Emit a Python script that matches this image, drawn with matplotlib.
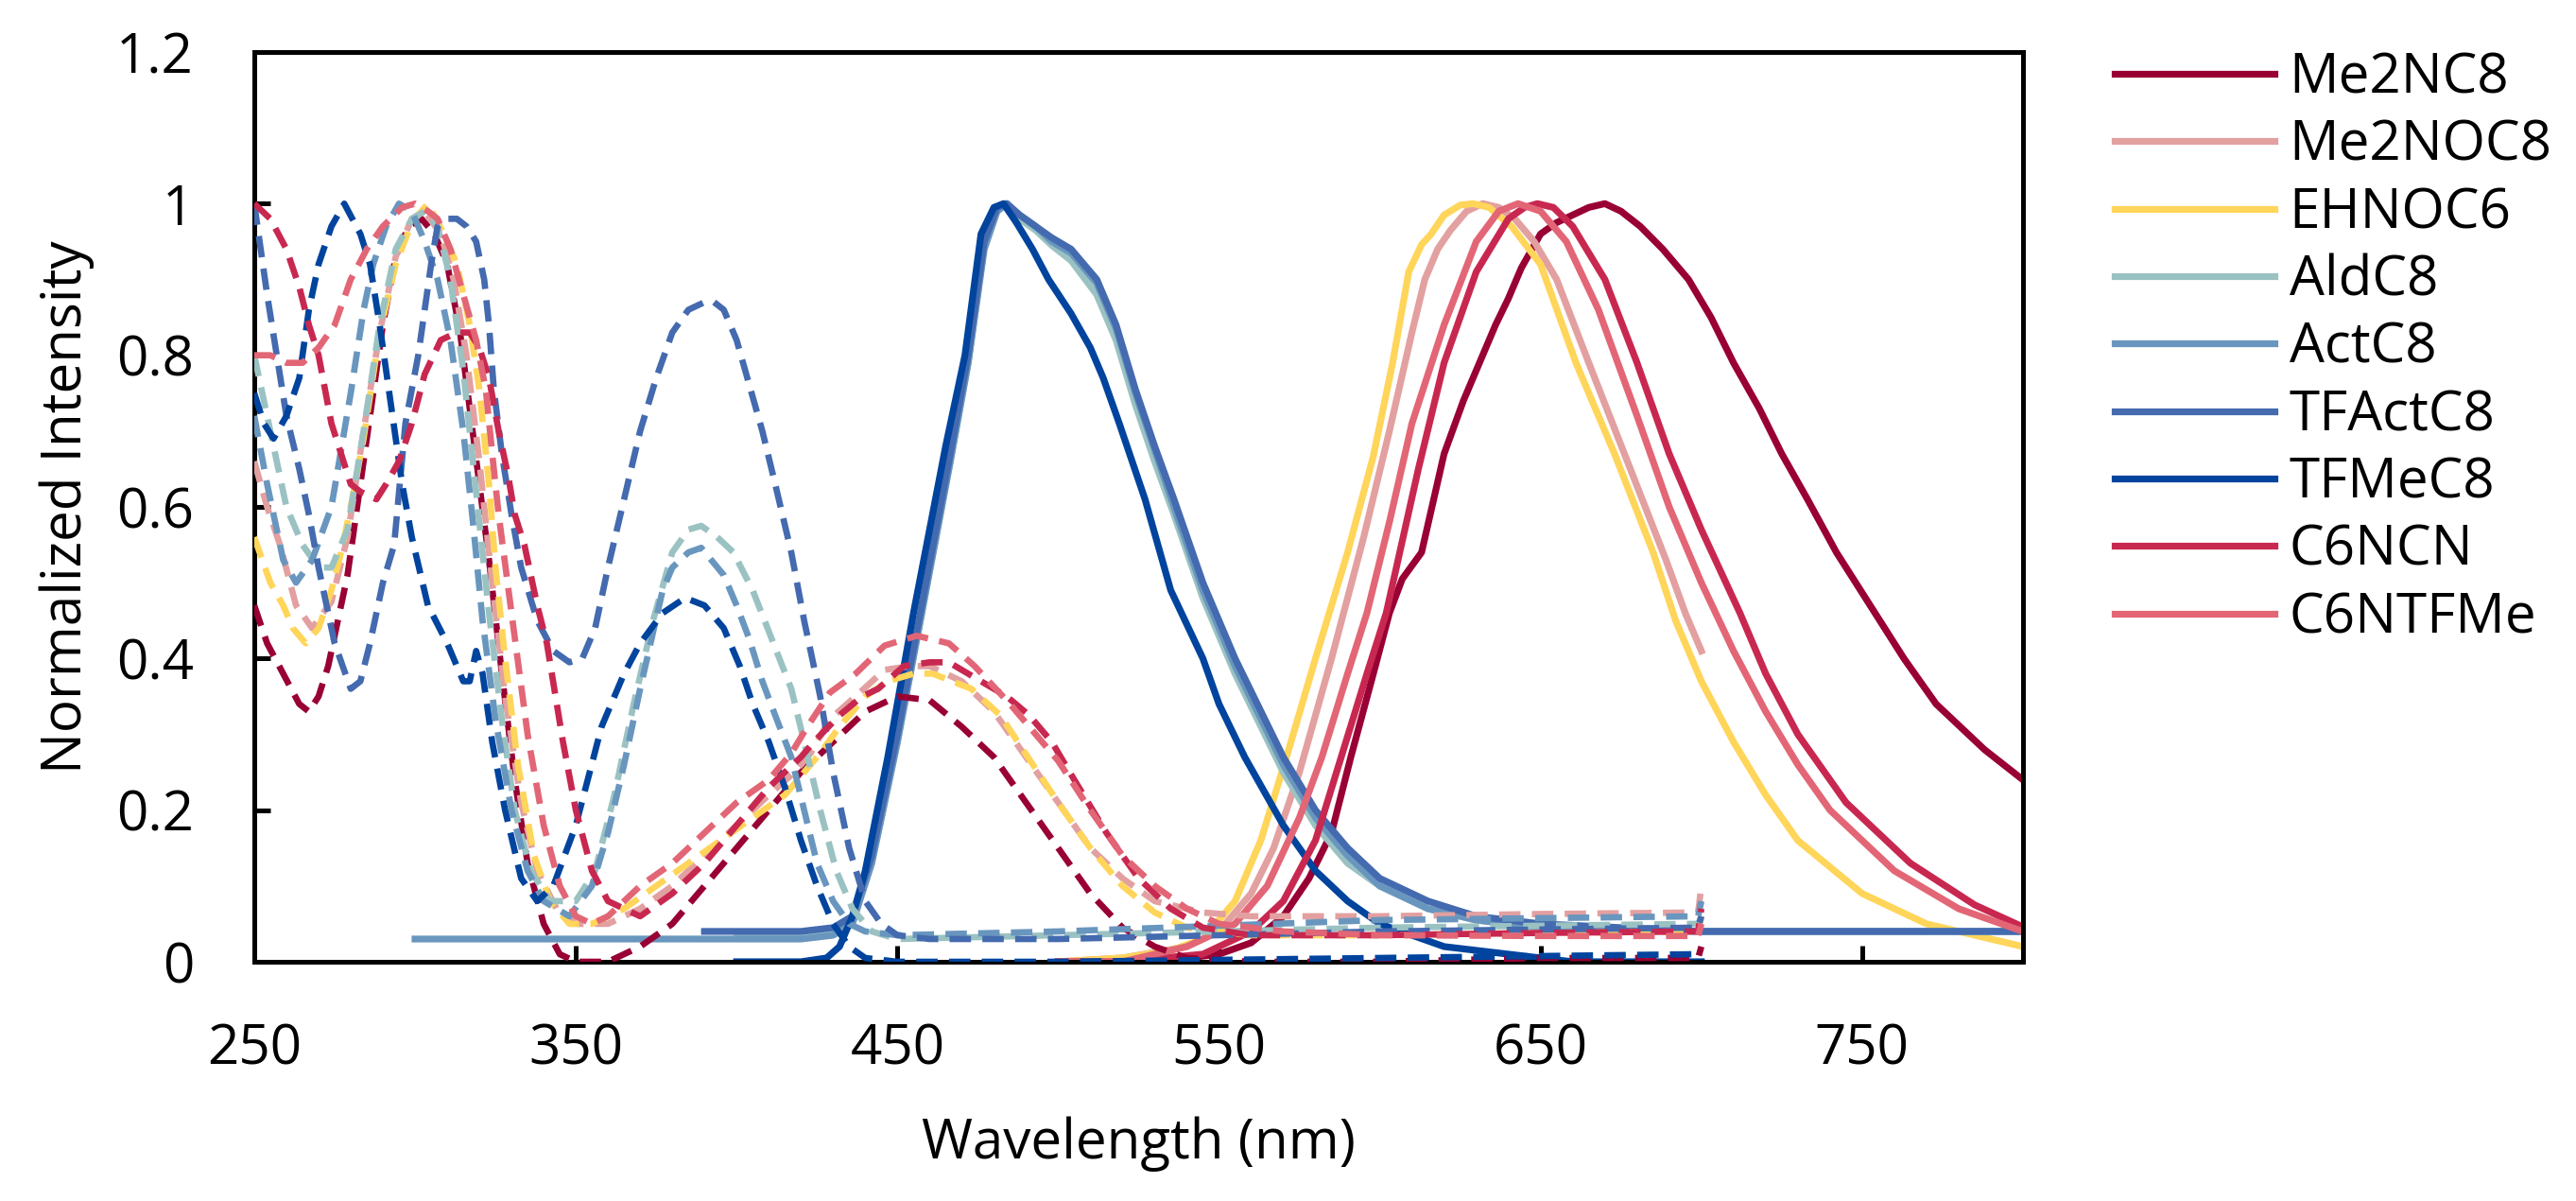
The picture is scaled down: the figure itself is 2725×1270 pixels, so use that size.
import numpy as np
import matplotlib
matplotlib.use("Agg")
import matplotlib.pyplot as plt
from matplotlib.ticker import FuncFormatter

plt.rcParams['font.family'] = ['Open Sans', 'DejaVu Sans']

# series names, same order as the legend
names = ['Me2NC8', 'Me2NOC8', 'EHNOC6', 'AldC8', 'ActC8', 'TFActC8', 'TFMeC8', 'C6NCN', 'C6NTFMe']
colors = ['#990033', '#E3A0A0', '#FFD55A', '#9BC2C2', '#6996BE', '#446AAF', '#00449E', '#C82850', '#E26676']

# ---- emission spectra (solid) ----
em_Me2NC8_wl = [500, 520, 540, 550, 560, 570, 578, 585, 591, 598, 603, 607, 613, 620, 626, 631, 636, 640, 644, 650,
                655, 660, 665, 670, 675, 681, 688, 696, 703, 710, 718, 725, 733, 742, 754, 763, 773, 788, 800]
em_Me2NC8 = [0.0, 0.0, 0.005, 0.01, 0.025, 0.06, 0.11, 0.17, 0.27, 0.38, 0.46, 0.505, 0.54, 0.67, 0.74, 0.79, 0.84,
             0.875, 0.915, 0.96, 0.975, 0.985, 0.995, 1.0, 0.99, 0.97, 0.94, 0.9, 0.85, 0.79, 0.73, 0.67, 0.61, 0.54,
             0.46, 0.40, 0.34, 0.28, 0.24]

em_Me2NOC8_wl = [500, 520, 540, 550, 560, 567, 575, 585, 595, 603, 610, 614, 618, 622, 627, 632, 637, 642, 648, 655,
                 665, 677, 689, 695, 700]
em_Me2NOC8 = [0.0, 0.005, 0.02, 0.04, 0.09, 0.15, 0.25, 0.4, 0.56, 0.7, 0.83, 0.9, 0.94, 0.965, 0.99, 1.0, 0.995,
              0.98, 0.95, 0.9, 0.79, 0.66, 0.53, 0.46, 0.41]

em_EHNOC6_wl = [500, 520, 535, 545, 555, 563, 571, 580, 590, 598, 604, 609, 613, 616, 620, 625, 629, 634, 641, 650,
                661, 673, 685, 692, 700, 710, 720, 730, 750, 770, 800]
em_EHNOC6 = [0.0, 0.005, 0.015, 0.03, 0.08, 0.16, 0.27, 0.4, 0.54, 0.667, 0.79, 0.91, 0.946, 0.96, 0.985, 0.998, 1.0,
             0.995, 0.97, 0.92, 0.79, 0.67, 0.54, 0.45, 0.37, 0.29, 0.22, 0.16, 0.09, 0.05, 0.02]

em_AldC8_wl = [400, 420, 430, 436, 442, 450, 458, 466, 472, 477, 481, 484, 488, 493, 498, 504, 512, 518, 524, 530,
               536, 545, 555, 570, 580, 590, 600, 615, 630, 650, 700, 800]
em_AldC8 = [0.035, 0.035, 0.04, 0.055, 0.13, 0.29, 0.47, 0.65, 0.79, 0.945, 0.99, 1.0, 0.98, 0.965, 0.945, 0.925,
            0.88, 0.82, 0.735, 0.66, 0.59, 0.48, 0.38, 0.25, 0.18, 0.13, 0.1, 0.07, 0.055, 0.045, 0.04, 0.04]

em_ActC8_wl = [300, 420, 430, 436, 442, 450, 458, 466, 472, 477, 481, 484, 488, 493, 498, 504, 512, 518, 524, 530,
               536, 545, 555, 570, 580, 590, 600, 615, 630, 650, 700, 800]
em_ActC8 = [0.03, 0.03, 0.035, 0.05, 0.13, 0.29, 0.47, 0.65, 0.79, 0.94, 0.99, 1.0, 0.985, 0.97, 0.95, 0.935, 0.895,
            0.835, 0.75, 0.675, 0.6, 0.49, 0.39, 0.26, 0.19, 0.14, 0.1, 0.07, 0.055, 0.045, 0.04, 0.04]

em_TFActC8_wl = [390, 420, 430, 436, 442, 450, 458, 466, 472, 477, 481, 484, 488, 493, 498, 504, 512, 518, 524, 530,
                 536, 545, 555, 570, 580, 590, 600, 615, 630, 650, 700, 800]
em_TFActC8 = [0.04, 0.04, 0.045, 0.06, 0.14, 0.3, 0.48, 0.66, 0.8, 0.95, 0.995, 1.0, 0.985, 0.97, 0.955, 0.94, 0.9,
              0.84, 0.755, 0.68, 0.61, 0.5, 0.4, 0.27, 0.2, 0.15, 0.11, 0.08, 0.06, 0.05, 0.04, 0.04]

em_TFMeC8_wl = [400, 420, 428, 432, 436, 440, 447, 455, 460, 465, 471, 476, 480, 483, 487, 492, 497, 504, 510, 514,
                519, 527, 535, 545, 550, 558, 570, 580, 590, 600, 620, 640, 660, 700]
em_TFMeC8 = [0.0, 0.0, 0.005, 0.02, 0.06, 0.12, 0.27, 0.46, 0.57, 0.68, 0.8, 0.96, 0.995, 1.0, 0.975, 0.94, 0.9,
             0.855, 0.81, 0.77, 0.71, 0.61, 0.49, 0.4, 0.34, 0.27, 0.18, 0.12, 0.08, 0.05, 0.02, 0.01, 0.0, 0.0]

em_C6NCN_wl = [500, 520, 545, 560, 570, 580, 588, 596, 602, 612, 620, 630, 640, 645, 649, 654, 660, 670, 680, 690,
               700, 712, 720, 730, 745, 765, 785, 800]
em_C6NCN = [0.0, 0.0, 0.01, 0.04, 0.08, 0.16, 0.27, 0.38, 0.46, 0.65, 0.79, 0.91, 0.98, 0.995, 1.0, 0.995, 0.97,
            0.9, 0.79, 0.67, 0.57, 0.46, 0.38, 0.3, 0.21, 0.13, 0.075, 0.046]

em_C6NTFMe_wl = [500, 520, 540, 555, 565, 575, 582, 590, 596, 603, 610, 620, 630, 637, 643, 650, 658, 668, 680, 690,
                 700, 710, 720, 730, 740, 760, 780, 800]
em_C6NTFMe = [0.0, 0.0, 0.02, 0.05, 0.1, 0.19, 0.27, 0.38, 0.46, 0.58, 0.71, 0.84, 0.95, 0.99, 1.0, 0.99, 0.95,
              0.86, 0.72, 0.6, 0.5, 0.41, 0.33, 0.26, 0.2, 0.12, 0.07, 0.04]

# ---- absorption spectra (dashed) ----
abs_Me2NC8_wl = [250, 254, 259, 264, 267, 270, 273, 276, 279, 282, 286, 290, 294, 298, 302, 306, 310, 314, 317, 320,
                 323, 327, 331, 335, 340, 345, 350, 360, 370, 380, 390, 400, 410, 420, 430, 440, 450, 460, 470, 480,
                 490, 500, 510, 520, 530, 540, 560, 600, 650, 699, 700]
abs_Me2NC8 = [0.47, 0.42, 0.38, 0.34, 0.33, 0.35, 0.39, 0.45, 0.51, 0.6, 0.72, 0.84, 0.93, 0.97, 0.98, 0.96, 0.92,
              0.83, 0.73, 0.63, 0.53, 0.38, 0.24, 0.13, 0.05, 0.01, 0.0, 0.0, 0.02, 0.05, 0.1, 0.15, 0.2, 0.25, 0.29,
              0.33, 0.35, 0.345, 0.31, 0.27, 0.21, 0.15, 0.09, 0.045, 0.02, 0.005, 0.0, 0.0, 0.005, 0.005, 0.02]

abs_Me2NOC8_wl = [250, 254, 258, 263, 268, 274, 279, 284, 289, 294, 299, 303, 308, 312, 316, 320, 324, 328, 333, 338,
                  344, 350, 360, 370, 380, 390, 400, 410, 418, 423, 429, 437, 446, 454, 460, 470, 480, 490, 500, 510,
                  520, 530, 545, 560, 600, 650, 699, 700]
abs_Me2NOC8 = [0.66, 0.6, 0.55, 0.47, 0.44, 0.475, 0.56, 0.7, 0.83, 0.93, 0.98, 0.99, 0.96, 0.9, 0.8, 0.66, 0.5,
               0.35, 0.21, 0.12, 0.07, 0.05, 0.05, 0.07, 0.1, 0.14, 0.18, 0.22, 0.25, 0.275, 0.32, 0.35, 0.385, 0.39,
               0.39, 0.37, 0.33, 0.27, 0.21, 0.15, 0.11, 0.08, 0.065, 0.06, 0.06, 0.063, 0.065, 0.1]

abs_EHNOC6_wl = [250, 255, 259, 262, 266, 270, 274, 277, 280, 284, 289, 294, 299, 304, 309, 313, 317, 320, 323, 325,
                 328, 332, 337, 342, 348, 355, 365, 375, 385, 395, 405, 415, 420, 426, 432, 440, 447, 455, 461, 473,
                 482, 489, 500, 510, 520, 530, 540, 560, 600, 650, 699, 700]
abs_EHNOC6 = [0.56, 0.5, 0.47, 0.44, 0.42, 0.44, 0.49, 0.54, 0.6, 0.69, 0.83, 0.92, 0.975, 1.0, 0.96, 0.92, 0.84,
              0.755, 0.63, 0.52, 0.4, 0.26, 0.14, 0.08, 0.05, 0.05, 0.07, 0.1, 0.13, 0.16, 0.19, 0.22, 0.245, 0.275,
              0.31, 0.35, 0.37, 0.38, 0.38, 0.36, 0.325, 0.28, 0.21, 0.15, 0.1, 0.065, 0.045, 0.035, 0.035, 0.038,
              0.04, 0.06]

abs_AldC8_wl = [250, 255, 260, 265, 270, 274, 279, 284, 289, 294, 299, 303, 307, 311, 315, 319, 323, 327, 331, 336,
                342, 350, 356, 362, 368, 374, 380, 385, 389, 394, 399, 405, 411, 417, 421, 426, 431, 436, 442, 450,
                500, 600, 699, 700]
abs_AldC8 = [0.8, 0.7, 0.6, 0.55, 0.52, 0.52, 0.57, 0.7, 0.84, 0.94, 0.98, 0.99, 0.97, 0.9, 0.78, 0.62, 0.46, 0.32,
             0.2, 0.12, 0.08, 0.08, 0.12, 0.22, 0.34, 0.45, 0.54, 0.57, 0.575, 0.56, 0.54, 0.49, 0.425, 0.36, 0.29,
             0.2, 0.12, 0.07, 0.04, 0.03, 0.035, 0.045, 0.05, 0.06]

abs_ActC8_wl = [250, 254, 259, 263, 268, 274, 280, 284, 287, 291, 295, 299, 303, 307, 311, 315, 318, 321, 325, 330,
                335, 340, 348, 355, 360, 365, 370, 377, 380, 385, 389, 396, 400, 404, 408, 412, 417, 421, 425, 430,
                435, 440, 450, 500, 600, 699, 700]
abs_ActC8 = [0.72, 0.63, 0.53, 0.5, 0.53, 0.6, 0.75, 0.86, 0.92, 0.97, 1.0, 0.99, 0.95, 0.9, 0.82, 0.7, 0.58, 0.45,
             0.32, 0.2, 0.12, 0.08, 0.06, 0.1, 0.17, 0.26, 0.36, 0.49, 0.52, 0.54, 0.546, 0.51, 0.47, 0.425, 0.37,
             0.325, 0.27, 0.2, 0.13, 0.08, 0.05, 0.04, 0.035, 0.04, 0.055, 0.06, 0.08]

abs_TFActC8_wl = [250, 252, 254, 257, 260, 264, 267, 270, 275, 280, 283, 286, 290, 293.5, 297, 301, 305, 307, 310,
                  313, 316, 319, 321.5, 323, 324.5, 327, 330, 333, 338, 343, 348, 352, 356, 360, 365, 370, 375, 380,
                  385, 390, 393, 396, 400, 404, 408, 412, 417, 421, 426, 430, 435, 440, 445, 450, 460, 500, 600, 699,
                  700]
abs_TFActC8 = [1.0, 0.94, 0.88, 0.8, 0.72, 0.65, 0.59, 0.52, 0.42, 0.36, 0.37, 0.42, 0.5, 0.55, 0.71, 0.8, 0.92,
               0.97, 0.98, 0.98, 0.97, 0.95, 0.9, 0.84, 0.755, 0.67, 0.59, 0.52, 0.45, 0.41, 0.395, 0.4, 0.44, 0.52,
               0.61, 0.7, 0.77, 0.83, 0.86, 0.87, 0.87, 0.86, 0.82, 0.76, 0.7, 0.63, 0.54, 0.45, 0.35, 0.25, 0.15,
               0.08, 0.05, 0.035, 0.03, 0.03, 0.04, 0.045, 0.06]

abs_TFMeC8_wl = [250, 253, 256, 260, 264, 267, 270, 274, 278, 283, 286, 289, 292, 296, 299, 304, 310, 315, 317, 319,
                 321, 324, 328, 333, 338, 343, 350, 358, 365, 370, 377, 384, 390, 396, 401, 405, 410, 415, 420, 425,
                 430, 435, 440, 450, 500, 600, 699, 700]
abs_TFMeC8 = [0.75, 0.71, 0.69, 0.72, 0.77, 0.86, 0.92, 0.97, 1.0, 0.96, 0.92, 0.84, 0.75, 0.63, 0.56, 0.47, 0.42,
              0.37, 0.37, 0.41, 0.38, 0.29, 0.2, 0.11, 0.08, 0.1, 0.18, 0.31, 0.38, 0.42, 0.46, 0.48, 0.47, 0.44,
              0.39, 0.34, 0.29, 0.23, 0.16, 0.1, 0.05, 0.02, 0.005, 0.0, 0.0, 0.005, 0.01, 0.01]

abs_C6NCN_wl = [250, 255, 260, 264, 267, 270, 272, 274, 277, 280, 283, 288, 291, 295, 299, 303, 308, 313, 317, 320,
                323, 326, 329, 331, 334, 338, 341, 346, 350, 355, 360, 370, 380, 390, 400, 410, 420, 424, 432, 439,
                444, 452, 460, 466, 476, 484, 491, 498, 505, 515, 525, 535, 545, 560, 600, 650, 699, 700]
abs_C6NCN = [1.0, 0.98, 0.94, 0.89, 0.84, 0.8, 0.755, 0.71, 0.67, 0.63, 0.62, 0.61, 0.63, 0.66, 0.71, 0.775, 0.82,
             0.83, 0.83, 0.81, 0.77, 0.7, 0.64, 0.59, 0.55, 0.47, 0.42, 0.29, 0.2, 0.12, 0.08, 0.06, 0.09, 0.13, 0.18,
             0.23, 0.27, 0.29, 0.325, 0.35, 0.36, 0.39, 0.395, 0.395, 0.37, 0.35, 0.325, 0.29, 0.24, 0.17, 0.11,
             0.07, 0.045, 0.035, 0.035, 0.038, 0.04, 0.07]

abs_C6NTFMe_wl = [250, 255, 260, 265, 270, 275, 280, 285, 290, 296, 300, 304, 307, 311, 315, 319, 322, 324, 326, 330,
                  335, 340, 345, 350, 355, 360, 370, 380, 390, 400, 410, 417, 422, 429, 437, 446, 456, 466, 474, 485,
                  495, 500, 510, 520, 530, 540, 550, 570, 600, 650, 699, 700]
abs_C6NTFMe = [0.8, 0.8, 0.79, 0.79, 0.81, 0.84, 0.9, 0.94, 0.97, 0.995, 1.0, 0.99, 0.98, 0.94, 0.88, 0.82, 0.755,
               0.67, 0.59, 0.46, 0.3, 0.18, 0.1, 0.06, 0.05, 0.06, 0.1, 0.13, 0.17, 0.21, 0.24, 0.275, 0.31, 0.355,
               0.38, 0.417, 0.43, 0.42, 0.39, 0.34, 0.29, 0.265, 0.2, 0.14, 0.1, 0.07, 0.05, 0.04, 0.035, 0.034,
               0.034, 0.05]

em = [(em_Me2NC8_wl, em_Me2NC8), (em_Me2NOC8_wl, em_Me2NOC8), (em_EHNOC6_wl, em_EHNOC6),
      (em_AldC8_wl, em_AldC8), (em_ActC8_wl, em_ActC8), (em_TFActC8_wl, em_TFActC8),
      (em_TFMeC8_wl, em_TFMeC8), (em_C6NCN_wl, em_C6NCN), (em_C6NTFMe_wl, em_C6NTFMe)]
ab = [(abs_Me2NC8_wl, abs_Me2NC8), (abs_Me2NOC8_wl, abs_Me2NOC8), (abs_EHNOC6_wl, abs_EHNOC6),
      (abs_AldC8_wl, abs_AldC8), (abs_ActC8_wl, abs_ActC8), (abs_TFActC8_wl, abs_TFActC8),
      (abs_TFMeC8_wl, abs_TFMeC8), (abs_C6NCN_wl, abs_C6NCN), (abs_C6NTFMe_wl, abs_C6NTFMe)]

fig = plt.figure(figsize=(13.625, 6.35), dpi=200)
ax = fig.add_axes([0.0987, 0.1992, 0.6866, 0.7575])

for (x, y), c, n in zip(em, colors, names):
    ax.plot(x, y, color=c, lw=2.6, label=n, zorder=2, solid_joinstyle='round')
for (x, y), c in zip(ab, colors):
    ax.plot(x, y, color=c, lw=2.4, ls=(0, (3.4, 1.8)), zorder=3)

ax.set_xlim(250, 800)
ax.set_ylim(0, 1.2)
ax.set_xticks(np.arange(250, 801, 100))
ax.set_yticks(np.arange(0, 1.21, 0.2))
ax.yaxis.set_major_formatter(FuncFormatter(lambda v, p: '{:g}'.format(round(v, 1))))
ax.tick_params(direction='in', length=6, width=1.8, labelsize=21, pad=23)
for s in ax.spines.values():
    s.set_linewidth(1.8)

ax.set_xlabel('Wavelength (nm)', fontsize=21)
ax.set_ylabel('Normalized Intensity', fontsize=21)
ax.xaxis.set_label_coords(0.5, -0.2)
ax.xaxis.label.set_va('center')
ax.yaxis.set_label_coords(-0.106, 0.5)
ax.yaxis.label.set_va('center')

ax.legend(loc='upper left', bbox_to_anchor=(0.821, 0.9575), bbox_transform=fig.transFigure,
          frameon=False, borderpad=0, borderaxespad=0, handlelength=2.9, handletextpad=0.26,
          labelspacing=0.22, fontsize=21)

fig.savefig('out.png', dpi=200)
